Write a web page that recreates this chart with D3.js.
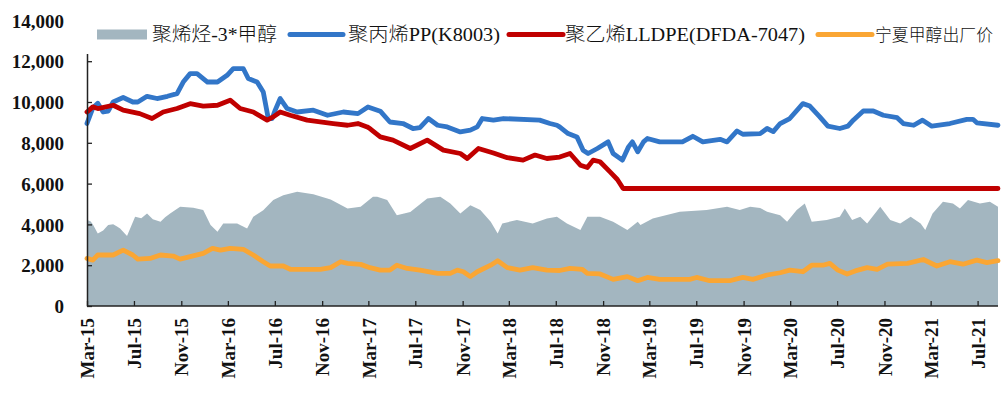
<!DOCTYPE html>
<html><head><meta charset="utf-8">
<script src="https://cdn.jsdelivr.net/npm/d3@7"></script>
<style>body{margin:0;background:#fff}svg{display:block}</style>
</head><body>
<svg id="c" width="1003" height="405"></svg>
<script>
const seriesNames = ["聚烯烃-3*甲醇","聚丙烯PP(K8003)","聚乙烯LLDPE(DFDA-7047)","宁夏甲醇出厂价"];
const yTicks = [0,2000,4000,6000,8000,10000,12000,14000];
const xTickLabels = ["Mar-15","Jul-15","Nov-15","Mar-16","Jul-16","Nov-16","Mar-17","Jul-17","Nov-17","Mar-18","Jul-18","Nov-18","Mar-19","Jul-19","Nov-19","Mar-20","Jul-20","Nov-20","Mar-21","Jul-21"];

const spread = [
["2015-03-01",4210],["2015-03-10",4150],["2015-03-16",4010],["2015-03-29",3560],["2015-04-12",3700],["2015-04-25",3970],["2015-05-08",4010],["2015-05-18",3900],["2015-05-26",3800],["2015-06-13",3430],["2015-07-04",4370],["2015-07-20",4300],["2015-08-04",4530],["2015-08-19",4250],["2015-09-08",4130],["2015-09-20",4350],["2015-10-03",4530],["2015-10-29",4860],["2015-12-02",4820],["2015-12-28",4700],["2016-01-16",3970],["2016-02-03",3640],["2016-02-18",4050],["2016-03-25",4050],["2016-04-20",3800],["2016-05-06",4370],["2016-06-01",4690],["2016-06-27",5190],["2016-07-23",5430],["2016-08-28",5600],["2016-10-09",5480],["2016-11-23",5220],["2017-01-06",4780],["2017-02-09",4860],["2017-03-13",5350],["2017-03-24",5350],["2017-04-19",5190],["2017-05-14",4450],["2017-06-18",4610],["2017-08-01",5270],["2017-09-04",5350],["2017-09-30",5020],["2017-10-26",4530],["2017-11-21",4940],["2017-12-17",4700],["2018-01-13",4130],["2018-01-31",3560],["2018-02-12",4050],["2018-03-22",4210],["2018-05-02",4050],["2018-06-08",4290],["2018-07-04",4370],["2018-07-30",4050],["2018-09-03",3720],["2018-09-21",4370],["2018-10-24",4370],["2018-11-27",4130],["2019-01-03",3720],["2019-01-30",4130],["2019-02-06",3970],["2019-03-10",4290],["2019-05-19",4620],["2019-07-28",4700],["2019-09-19",4860],["2019-10-22",4700],["2019-11-18",4860],["2019-12-14",4800],["2020-01-01",4620],["2020-02-04",4450],["2020-02-22",4130],["2020-03-18",4700],["2020-04-08",5030],["2020-04-26",4130],["2020-06-04",4210],["2020-07-08",4370],["2020-07-21",4780],["2020-08-09",4210],["2020-08-30",4370],["2020-09-17",4050],["2020-10-21",4860],["2020-11-16",4210],["2020-12-12",4050],["2021-01-08",4370],["2021-02-03",4050],["2021-02-15",3720],["2021-03-06",4530],["2021-04-02",5110],["2021-04-28",5030],["2021-05-16",4780],["2021-06-06",5190],["2021-07-07",5030],["2021-08-02",5110],["2021-08-23",4860]
];

const pp = [
["2015-03-01",8950],["2015-03-16",9700],["2015-03-29",9940],["2015-04-12",9510],["2015-04-25",9550],["2015-05-08",10000],["2015-06-03",10220],["2015-06-28",10000],["2015-07-11",10000],["2015-08-04",10280],["2015-08-30",10170],["2015-09-26",10280],["2015-10-21",10410],["2015-11-06",10980],["2015-11-24",11390],["2015-12-12",11390],["2016-01-08",10980],["2016-02-03",10980],["2016-02-28",11310],["2016-03-15",11640],["2016-04-10",11640],["2016-04-23",11150],["2016-05-16",10980],["2016-06-01",10490],["2016-06-14",9190],["2016-06-24",9190],["2016-07-02",9600],["2016-07-15",10170],["2016-08-02",9680],["2016-08-28",9510],["2016-10-09",9600],["2016-11-15",9350],["2016-12-26",9510],["2017-02-02",9430],["2017-02-28",9760],["2017-04-01",9550],["2017-04-26",9020],["2017-05-30",8945],["2017-06-25",8700],["2017-07-13",8740],["2017-08-04",9190],["2017-08-28",8860],["2017-09-22",8780],["2017-10-26",8535],["2017-11-21",8620],["2017-12-09",8780],["2017-12-22",9190],["2018-01-20",9110],["2018-02-15",9190],["2018-05-20",9110],["2018-06-16",8945],["2018-07-04",8860],["2018-07-11",8780],["2018-08-02",8455],["2018-08-25",8290],["2018-09-10",7640],["2018-09-23",7475],["2018-10-17",7720],["2018-11-14",8045],["2018-11-27",7475],["2018-12-21",7150],["2019-01-06",7800],["2019-01-16",8045],["2019-01-30",7560],["2019-02-14",8045],["2019-02-24",8210],["2019-03-28",8045],["2019-05-26",8045],["2019-06-22",8320],["2019-07-18",8045],["2019-09-01",8170],["2019-09-19",8045],["2019-10-15",8580],["2019-10-30",8420],["2019-12-14",8450],["2020-01-01",8700],["2020-01-17",8550],["2020-02-04",8945],["2020-02-29",9190],["2020-04-03",9920],["2020-04-21",9800],["2020-05-17",9270],["2020-06-07",8815],["2020-07-08",8700],["2020-07-29",8815],["2020-08-12",9110],["2020-09-07",9560],["2020-10-03",9560],["2020-10-29",9350],["2020-12-04",9230],["2020-12-20",8945],["2021-01-16",8860],["2021-02-08",9110],["2021-03-04",8815],["2021-04-20",8945],["2021-06-03",9150],["2021-06-19",9150],["2021-06-29",8980],["2021-08-23",8860]
];

const lldpe = [
["2015-03-01",9510],["2015-03-16",9760],["2015-03-29",9680],["2015-05-08",9840],["2015-06-03",9600],["2015-07-16",9430],["2015-08-17",9190],["2015-09-15",9510],["2015-10-21",9680],["2015-11-24",9920],["2015-12-28",9800],["2016-02-03",9840],["2016-03-07",10090],["2016-04-02",9680],["2016-05-06",9510],["2016-06-11",9110],["2016-06-27",9270],["2016-07-15",9510],["2016-08-10",9350],["2016-09-23",9110],["2016-11-30",8945],["2017-01-06",8860],["2017-02-02",8945],["2017-02-26",8780],["2017-03-05",8700],["2017-04-01",8290],["2017-05-04",8130],["2017-06-18",7720],["2017-08-01",8130],["2017-09-12",7640],["2017-10-26",7475],["2017-11-13",7230],["2017-12-12",7720],["2018-01-20",7500],["2018-02-25",7270],["2018-04-07",7150],["2018-05-08",7400],["2018-06-08",7230],["2018-07-11",7300],["2018-08-07",7475],["2018-09-03",6900],["2018-09-21",6790],["2018-10-06",7150],["2018-10-24",7070],["2018-11-19",6575],["2018-12-08",6200],["2018-12-23",5760],["2021-08-23",5760]
];

const methanol = [
["2015-03-01",2335],["2015-03-16",2250],["2015-03-29",2500],["2015-05-08",2500],["2015-06-03",2740],["2015-06-28",2500],["2015-07-11",2300],["2015-08-12",2330],["2015-09-08",2500],["2015-10-11",2450],["2015-10-29",2300],["2015-11-24",2420],["2015-12-28",2580],["2016-01-21",2825],["2016-02-11",2740],["2016-03-07",2825],["2016-04-10",2780],["2016-05-06",2500],["2016-06-01",2170],["2016-06-19",1960],["2016-07-23",1960],["2016-08-10",1800],["2016-10-27",1800],["2016-11-23",1880],["2016-12-19",2170],["2017-01-06",2090],["2017-02-09",2040],["2017-03-05",1880],["2017-04-01",1760],["2017-04-26",1760],["2017-05-14",2000],["2017-06-10",1840],["2017-07-13",1760],["2017-08-28",1600],["2017-09-30",1600],["2017-10-18",1760],["2017-11-03",1680],["2017-11-21",1440],["2017-12-09",1680],["2018-01-13",2000],["2018-01-31",2220],["2018-02-25",1880],["2018-03-30",1760],["2018-05-02",1880],["2018-06-08",1760],["2018-07-11",1740],["2018-08-07",1840],["2018-09-08",1800],["2018-09-21",1600],["2018-10-24",1570],["2018-11-27",1305],["2019-01-03",1440],["2019-01-30",1240],["2019-02-24",1400],["2019-03-28",1305],["2019-06-14",1305],["2019-07-02",1400],["2019-08-05",1240],["2019-09-26",1240],["2019-10-30",1400],["2019-11-25",1305],["2020-01-01",1520],["2020-02-04",1630],["2020-02-29",1760],["2020-04-03",1680],["2020-04-26",2000],["2020-05-25",2000],["2020-06-12",2090],["2020-07-03",1760],["2020-07-27",1570],["2020-08-17",1720],["2020-09-17",1880],["2020-10-13",1800],["2020-11-09",2050],["2020-12-31",2090],["2021-02-10",2280],["2021-03-17",1960],["2021-04-20",2170],["2021-05-24",2050],["2021-06-29",2250],["2021-07-25",2130],["2021-08-23",2220]
];

const colors = {area:"#A3B6C0", pp:"#3276C8", lldpe:"#C00000", meth:"#FAA634"};

const parse = d3.timeParse("%Y-%m-%d");
const toPts = a => a.map(d => ({date: parse(d[0]), v: d[1]}));

const svg = d3.select("#c");
const L = 87, R = 998, T = 20.4, B = 306;
const x = d3.scaleTime().domain([parse("2015-03-01"), parse("2021-08-23")]).range([L, R]);
const y = d3.scaleLinear().domain([0, 14000]).range([B, T]);

// area
svg.append("path").datum(toPts(spread))
  .attr("fill", colors.area)
  .attr("d", d3.area().x(d => x(d.date)).y0(y(0)).y1(d => y(d.v)));

const line = d3.line().x(d => x(d.date)).y(d => y(d.v));
[[pp, colors.pp],[lldpe, colors.lldpe],[methanol, colors.meth]].forEach(([s,c]) => {
  svg.append("path").datum(toPts(s)).attr("fill","none").attr("stroke",c)
    .attr("stroke-width",4.8).attr("stroke-linejoin","round").attr("stroke-linecap","round").attr("d", line);
});

// axes
const axisColor = "#222";
const tickDates = xTickLabels.map(s => d3.timeParse("%b-%y")(s));
const xAxis = svg.append("g").attr("transform",`translate(0,${B})`)
  .call(d3.axisBottom(x).tickValues(tickDates).tickSize(-5).tickFormat(d3.timeFormat("%b-%y")).tickSizeOuter(0));
xAxis.select(".domain").attr("stroke",axisColor).attr("stroke-width",1.5).attr("d",`M${L},0H${R}`);
xAxis.selectAll(".tick line").attr("stroke",axisColor).attr("stroke-width",1.3);
xAxis.selectAll(".tick text")
  .attr("transform","rotate(-90)")
  .attr("text-anchor","end")
  .attr("x",-12).attr("y",0).attr("dy","0.35em")
  .attr("font-family","'Liberation Serif','Times New Roman',serif")
  .attr("font-weight","bold").attr("font-size","19px").attr("fill","#111");

const yAxis = svg.append("g").attr("transform",`translate(${L},0)`)
  .call(d3.axisLeft(y).tickValues(yTicks).tickSize(-5).tickFormat(d3.format(",")).tickSizeOuter(0));
yAxis.select(".domain").attr("stroke",axisColor).attr("stroke-width",1.5);
yAxis.selectAll(".tick line").attr("stroke",axisColor).attr("stroke-width",1.3);
yAxis.selectAll(".tick text")
  .attr("x",-23).attr("dy","0.35em")
  .attr("font-family","'Liberation Serif','Times New Roman',serif")
  .attr("font-weight","bold").attr("font-size","19px").attr("fill","#111");

// legend with white background
svg.append("rect").attr("x",L-1).attr("y",0).attr("width",1003-L+1).attr("height",54).attr("fill","#fff");
const legFont = "'Liberation Serif','Noto Sans CJK SC',serif";
const leg = [
  {type:"rect", c:colors.area, x0:97, x1:147, tx:152, tl:125, fs:19},
  {type:"line", c:colors.pp, x0:290, x1:343, tx:348, tl:152, fs:19},
  {type:"line", c:colors.lldpe, x0:509, x1:563, tx:565, tl:240, fs:19},
  {type:"line", c:colors.meth, x0:818, x1:872, tx:875, tl:118, fs:17}
];
const ly = 34.5;
leg.forEach((d,i) => {
  if (d.type === "rect") {
    svg.append("rect").attr("x",d.x0).attr("y",ly-5).attr("width",d.x1-d.x0).attr("height",10).attr("fill",d.c);
  } else {
    svg.append("line").attr("x1",d.x0).attr("x2",d.x1).attr("y1",ly).attr("y2",ly)
      .attr("stroke",d.c).attr("stroke-width",5).attr("stroke-linecap","round");
  }
  svg.append("text").attr("x",d.tx).attr("y",ly+6.5)
    .attr("font-family",legFont).attr("font-size",d.fs+"px").attr("font-weight",300).attr("fill","#111")
    .attr("textLength",d.tl).attr("lengthAdjust","spacingAndGlyphs")
    .text(seriesNames[i]);
});
</script>
</body></html>
